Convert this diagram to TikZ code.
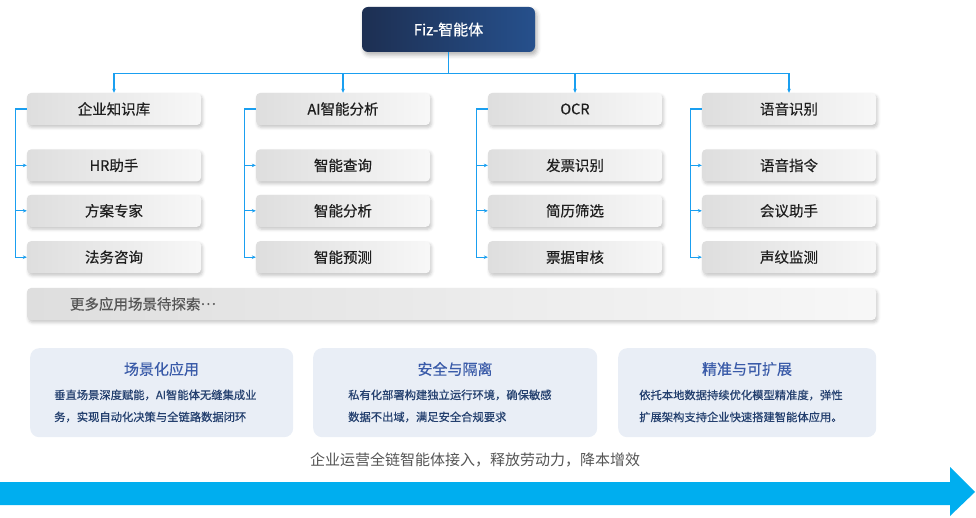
\documentclass[tikz,border=0pt]{standalone}
\usepackage{fontspec}
\setmainfont{Noto Sans CJK SC}
\newfontfamily\midfont[FakeBold=0.45]{Noto Sans CJK SC}
\newfontfamily\cardfont[FakeBold=0.6]{Noto Sans CJK SC}
\usetikzlibrary{arrows.meta, positioning, shadows.blur}

\definecolor{navyL}{HTML}{1D2F52}
\definecolor{navyR}{HTML}{26508C}
\definecolor{linkblue}{HTML}{1A9FF0}
\definecolor{boxgray}{HTML}{DEDEDE}
\definecolor{cardfill}{HTML}{E9EEF6}
\definecolor{cardtitle}{HTML}{3A5BA9}
\definecolor{cardtext}{HTML}{233F6E}
\definecolor{flowblue}{HTML}{00AEEF}
\definecolor{softtext}{HTML}{555555}

\begin{document}
\begin{tikzpicture}[
    x=1pt, y=-1pt,
    >={Stealth[length=4pt, width=3.6pt]},
    % 顶部的深色节点
    rootbox/.style={rectangle, rounded corners=6pt, minimum width=173pt, minimum height=45pt,
        left color=navyL, right color=navyR, text=white, font=\midfont\fontsize{15}{17}\selectfont,
        blur shadow={shadow xshift=2pt, shadow yshift=-3pt, shadow blur radius=4pt, shadow opacity=30}},
    % 分类和子项的灰色按钮
    catbox/.style={rectangle, rounded corners=4pt, minimum width=174pt, minimum height=32pt,
        left color=boxgray, right color=white!97!black, text=black!88, font=\midfont\fontsize{14.5}{16}\selectfont,
        blur shadow={shadow xshift=1.5pt, shadow yshift=-2.5pt, shadow blur radius=3pt, shadow opacity=22}},
    subbox/.style={catbox},
    morebox/.style={catbox, inner xsep=43pt, text width=763pt, align=left, text=softtext},
    % 底部的说明卡片
    card/.style={rectangle, rounded corners=9pt, fill=cardfill, anchor=north west},
    cardhead/.style={text=cardtitle, font=\midfont\fontsize{15}{17}\selectfont},
    cardbody/.style={text=cardtext, anchor=west, align=left, inner sep=0pt, font=\cardfont\fontsize{11.3}{22}\selectfont},
    link/.style={draw=linkblue, line width=1.1pt, ->}
]
\useasboundingbox (0,0) rectangle (976,518);

% 1. 顶部节点和四个分类
\node [rootbox] (root) at (448.5,29.5) {Fiz-智能体};

\node [catbox] (kb)    at (114,109) {企业知识库};
\node [catbox] (ai)    at (343,109) {AI智能分析};
\node [catbox] (ocr)   at (575,109) {OCR};
\node [catbox] (voice) at (789,109) {语音识别};

% 2. 各分类下面的子项
\node [subbox, below=24pt of kb] (hr)    {HR助手};
\node [subbox, below=13pt of hr] (plan)  {方案专家};
\node [subbox, below=14pt of plan] (law) {法务咨询};

\node [subbox, below=24pt of ai] (query)     {智能查询};
\node [subbox, below=13pt of query] (anal)   {智能分析};
\node [subbox, below=14pt of anal] (predict) {智能预测};

\node [subbox, below=24pt of ocr] (invoice) {发票识别};
\node [subbox, below=13pt of invoice] (cv)  {简历筛选};
\node [subbox, below=14pt of cv] (audit)    {票据审核};

\node [subbox, below=24pt of voice] (cmd)  {语音指令};
\node [subbox, below=13pt of cmd] (meet)   {会议助手};
\node [subbox, below=14pt of meet] (print) {声纹监测};

\node [morebox] (more) at (451.5,304) {更多应用场景待探索\raisebox{0.32em}{…}};

% 3. 连线：顶部分到四列，每列再分到子项
\foreach \c in {kb, ai, ocr, voice}
    \draw [link] (root.south) -- ++(0,21) -| (\c.north);

\foreach \c/\s in {kb/hr, kb/plan, kb/law, ai/query, ai/anal, ai/predict,
                   ocr/invoice, ocr/cv, ocr/audit, voice/cmd, voice/meet, voice/print}
    \draw [link] (\c.west) -- ++(-11.5,0) |- (\s.west);

% 4. 底部三张卡片
\node [card, minimum width=263pt, minimum height=89pt] (scene) at (30,348) {};
\node [cardhead] (scenehead) at (161.5,369) {场景化应用};
\node [cardbody] (scenebody) at (54,406) {垂直场景深度赋能，AI智能体无缝集成业\\务，实现自动化决策与全链路数据闭环};

\node [card, minimum width=284pt, minimum height=89pt] (safe) at (313,348) {};
\node [cardhead] (safehead) at (455,369) {安全与隔离};
\node [cardbody] (safebody) at (348,406) {私有化部署构建独立运行环境，确保敏感\\数据不出域，满足安全合规要求};

\node [card, minimum width=258pt, minimum height=89pt] (scale) at (618,348) {};
\node [cardhead] (scalehead) at (747,369) {精准与可扩展};
\node [cardbody] (scalebody) at (639,406) {依托本地数据持续优化模型精准度，弹性\\扩展架构支持企业快速搭建智能体应用。};

% 5. 底部口号和大箭头
\node [text=softtext, font=\fontsize{15}{17}\selectfont] (slogan) at (475,460) {企业运营全链智能体接入，释放劳动力，降本增效};
\fill [flowblue] (0,482) -- (950,482) -- (950,467) -- (975,492) -- (950,516) -- (950,505) -- (0,505) -- cycle;

\end{tikzpicture}
\end{document}
